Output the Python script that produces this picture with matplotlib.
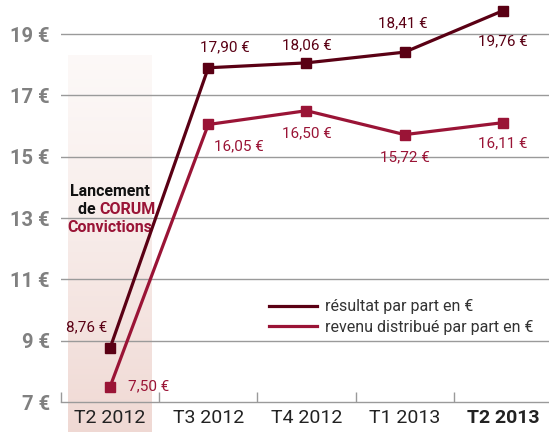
import numpy as np
import matplotlib
matplotlib.use("Agg")
import matplotlib.pyplot as plt
from matplotlib.lines import Line2D

plt.rcParams['font.family'] = ['Roboto', 'DejaVu Sans']

# data
quarters = ["T2 2012", "T3 2012", "T4 2012", "T1 2013", "T2 2013"]
resultat = [8.76, 17.90, 18.06, 18.41, 19.76]
revenu = [7.50, 16.05, 16.50, 15.72, 16.11]
y_ticks = [7, 9, 11, 13, 15, 17, 19]

# label offsets (points) for each value
res_offsets = [(-17, 15), (12, 15), (0, 13), (-1, 21), (0, -22)]
rev_offsets = [(28, 0), (22, -16), (0, -16), (0, -16), (0, -15)]

c_res = "#5a0014"
c_rev = "#9a1436"

W, H = 549, 432
fig = plt.figure(figsize=(W / 100, H / 100), dpi=100)

# shaded launch period behind the first quarter
bg = fig.add_axes([68 / W, 0, 84 / W, (H - 55) / H], zorder=0)
grad = np.linspace(0, 1, 256).reshape(-1, 1)
top = np.array([0.99, 0.975, 0.97])
bot = np.array([0.94, 0.85, 0.83])
img = top + (bot - top) * grad[..., None] ** 1.2
bg.imshow(img, aspect="auto", extent=[0, 1, 0, 1], origin="upper")
bg.axis("off")

ax = fig.add_axes([61 / W, 1 - 402 / H, 1 - 61 / W, 402 / H], zorder=1)
ax.patch.set_alpha(0)
x = np.arange(len(quarters))

for yv in y_ticks[1:]:
    ax.axhline(yv, color="#9a9a9a", lw=1.0, zorder=1)

ax.plot(x, resultat, color=c_res, lw=2.3, marker="s", ms=6.5, zorder=4, clip_on=False)
ax.plot(x, revenu, color=c_rev, lw=2.3, marker="s", ms=6.5, zorder=4, clip_on=False)

for xi, v, (dx, dy) in zip(x, resultat, res_offsets):
    ax.annotate(f"{v:.2f} €".replace(".", ","), (xi, v), xytext=(dx, dy),
                textcoords="offset points", ha="center", va="center",
                fontsize=11, color=c_res, annotation_clip=False)
for xi, v, (dx, dy) in zip(x, revenu, rev_offsets):
    ax.annotate(f"{v:.2f} €".replace(".", ","), (xi, v), xytext=(dx, dy),
                textcoords="offset points", ha="center", va="center",
                fontsize=11, color=c_rev, annotation_clip=False)

ax.set_xlim(-0.5, 4.47)
ax.set_ylim(7, 20.11)

for s in ["top", "right", "left"]:
    ax.spines[s].set_visible(False)
ax.spines["bottom"].set_color("#9a9a9a")
ax.spines["bottom"].set_linewidth(1.0)

ax.set_yticks(y_ticks)
ax.set_yticklabels([f"{t} €" for t in y_ticks], fontsize=14.5, fontweight="bold", color="#808080")
ax.tick_params(axis="y", length=0, pad=8)

ax.set_xticks(x)
ax.set_xticklabels(quarters, fontsize=14, color="#222222")
ax.get_xticklabels()[-1].set_fontweight("bold")
ax.tick_params(axis="x", which="major", length=0, pad=5)
ax.set_xticks(np.arange(-0.5, 4, 1.0), minor=True)
ax.tick_params(axis="x", which="minor", direction="in", length=7, color="#9a9a9a", width=1.0)

# launch annotation
ax.text(0, 13.88, "Lancement", ha="center", va="center", fontsize=11.5,
        fontweight="bold", color="#111111", zorder=3)
ax.text(-0.11, 13.28, "de ", ha="right", va="center", fontsize=11.5,
        fontweight="bold", color="#111111", zorder=3)
ax.text(-0.11, 13.28, "CORUM", ha="left", va="center", fontsize=11.5,
        fontweight="bold", color=c_rev, zorder=3)
ax.text(0, 12.68, "Convictions", ha="center", va="center", fontsize=11.5,
        fontweight="bold", color=c_rev, zorder=3)

handles = [Line2D([0], [0], color=c_res, lw=2.3),
           Line2D([0], [0], color=c_rev, lw=2.3)]
ax.legend(handles, ["résultat par part en €", "revenu distribué par part en €"],
          loc="upper left", bbox_to_anchor=(255 / W, 1 - 285 / H),
          bbox_transform=fig.transFigure, frameon=False, fontsize=11.5,
          handlelength=3.0, handletextpad=0.5, labelspacing=0.35,
          labelcolor="#333333")

fig.savefig("out.png", dpi=100)
